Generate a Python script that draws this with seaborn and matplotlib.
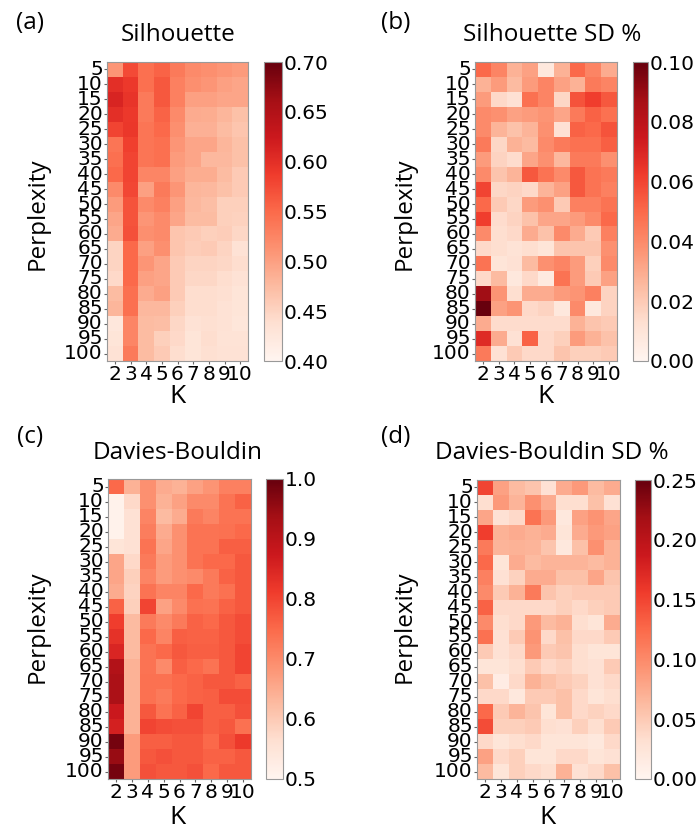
import matplotlib
matplotlib.use("Agg")
import matplotlib.pyplot as plt
import seaborn as sns
import pandas as pd

# grid of the t-SNE runs
perplexity = list(range(5, 105, 5))
k_values = list(range(2, 11))

# rows = perplexity 5..100, cols = K 2..10
silhouette = [
    [0.510, 0.575, 0.545, 0.555, 0.535, 0.520, 0.515, 0.510, 0.505],
    [0.600, 0.590, 0.545, 0.565, 0.530, 0.515, 0.510, 0.500, 0.495],
    [0.612, 0.595, 0.535, 0.565, 0.530, 0.500, 0.500, 0.495, 0.495],
    [0.600, 0.590, 0.535, 0.555, 0.520, 0.490, 0.488, 0.480, 0.470],
    [0.580, 0.592, 0.540, 0.550, 0.515, 0.485, 0.485, 0.475, 0.465],
    [0.540, 0.585, 0.540, 0.545, 0.510, 0.495, 0.495, 0.480, 0.470],
    [0.545, 0.580, 0.540, 0.545, 0.505, 0.495, 0.478, 0.478, 0.470],
    [0.550, 0.580, 0.525, 0.525, 0.500, 0.488, 0.488, 0.475, 0.460],
    [0.520, 0.578, 0.500, 0.535, 0.510, 0.480, 0.478, 0.470, 0.460],
    [0.505, 0.568, 0.520, 0.530, 0.500, 0.478, 0.472, 0.455, 0.455],
    [0.495, 0.568, 0.510, 0.520, 0.495, 0.475, 0.475, 0.455, 0.452],
    [0.490, 0.570, 0.515, 0.520, 0.465, 0.460, 0.455, 0.457, 0.448],
    [0.450, 0.550, 0.500, 0.515, 0.465, 0.457, 0.460, 0.450, 0.435],
    [0.450, 0.550, 0.510, 0.495, 0.460, 0.450, 0.450, 0.448, 0.440],
    [0.445, 0.550, 0.500, 0.495, 0.460, 0.448, 0.448, 0.440, 0.435],
    [0.475, 0.545, 0.490, 0.500, 0.460, 0.440, 0.440, 0.438, 0.430],
    [0.480, 0.545, 0.478, 0.478, 0.455, 0.440, 0.440, 0.435, 0.430],
    [0.425, 0.525, 0.475, 0.472, 0.448, 0.435, 0.438, 0.435, 0.428],
    [0.430, 0.525, 0.475, 0.455, 0.445, 0.430, 0.440, 0.433, 0.433],
    [0.435, 0.535, 0.475, 0.460, 0.440, 0.430, 0.438, 0.435, 0.435],
]

silhouette_sd = [
    [0.050, 0.042, 0.028, 0.033, 0.008, 0.028, 0.050, 0.042, 0.030],
    [0.028, 0.035, 0.025, 0.035, 0.042, 0.033, 0.028, 0.045, 0.042],
    [0.035, 0.015, 0.012, 0.048, 0.042, 0.016, 0.056, 0.062, 0.055],
    [0.040, 0.038, 0.033, 0.035, 0.037, 0.032, 0.045, 0.052, 0.048],
    [0.040, 0.027, 0.023, 0.027, 0.038, 0.012, 0.052, 0.050, 0.056],
    [0.045, 0.016, 0.028, 0.025, 0.040, 0.045, 0.048, 0.048, 0.053],
    [0.035, 0.017, 0.014, 0.032, 0.038, 0.026, 0.045, 0.045, 0.038],
    [0.040, 0.022, 0.027, 0.055, 0.047, 0.040, 0.055, 0.047, 0.045],
    [0.060, 0.016, 0.017, 0.015, 0.027, 0.033, 0.055, 0.047, 0.043],
    [0.050, 0.020, 0.016, 0.035, 0.038, 0.020, 0.043, 0.043, 0.047],
    [0.062, 0.014, 0.017, 0.023, 0.032, 0.032, 0.035, 0.040, 0.050],
    [0.040, 0.013, 0.015, 0.030, 0.023, 0.040, 0.030, 0.020, 0.043],
    [0.015, 0.013, 0.011, 0.013, 0.010, 0.022, 0.022, 0.022, 0.038],
    [0.047, 0.010, 0.012, 0.025, 0.038, 0.042, 0.035, 0.018, 0.040],
    [0.015, 0.025, 0.008, 0.015, 0.007, 0.047, 0.035, 0.020, 0.033],
    [0.088, 0.037, 0.013, 0.030, 0.030, 0.035, 0.037, 0.043, 0.017],
    [0.100, 0.033, 0.037, 0.015, 0.017, 0.008, 0.040, 0.008, 0.017],
    [0.030, 0.014, 0.014, 0.014, 0.014, 0.014, 0.028, 0.022, 0.020],
    [0.068, 0.030, 0.012, 0.052, 0.015, 0.018, 0.035, 0.028, 0.023],
    [0.045, 0.012, 0.020, 0.015, 0.015, 0.022, 0.018, 0.018, 0.020],
]

davies_bouldin = [
    [0.750, 0.640, 0.690, 0.650, 0.640, 0.665, 0.685, 0.715, 0.715],
    [0.510, 0.575, 0.690, 0.640, 0.665, 0.700, 0.700, 0.735, 0.760],
    [0.510, 0.560, 0.710, 0.625, 0.650, 0.725, 0.710, 0.735, 0.735],
    [0.510, 0.560, 0.720, 0.650, 0.690, 0.735, 0.735, 0.740, 0.750],
    [0.550, 0.560, 0.735, 0.660, 0.690, 0.735, 0.735, 0.765, 0.765],
    [0.660, 0.575, 0.725, 0.675, 0.690, 0.735, 0.750, 0.750, 0.775],
    [0.660, 0.590, 0.710, 0.675, 0.690, 0.700, 0.725, 0.760, 0.775],
    [0.650, 0.585, 0.735, 0.710, 0.710, 0.750, 0.725, 0.740, 0.775],
    [0.760, 0.590, 0.800, 0.665, 0.700, 0.740, 0.735, 0.760, 0.775],
    [0.810, 0.625, 0.725, 0.700, 0.725, 0.760, 0.750, 0.775, 0.790],
    [0.830, 0.625, 0.750, 0.710, 0.765, 0.760, 0.760, 0.775, 0.790],
    [0.850, 0.625, 0.735, 0.750, 0.775, 0.765, 0.765, 0.775, 0.800],
    [0.915, 0.640, 0.735, 0.700, 0.765, 0.750, 0.735, 0.775, 0.800],
    [0.925, 0.640, 0.740, 0.740, 0.750, 0.760, 0.775, 0.775, 0.760],
    [0.925, 0.640, 0.740, 0.725, 0.750, 0.760, 0.765, 0.790, 0.790],
    [0.875, 0.640, 0.775, 0.735, 0.760, 0.800, 0.765, 0.765, 0.785],
    [0.860, 0.640, 0.800, 0.790, 0.785, 0.785, 0.765, 0.775, 0.740],
    [0.985, 0.675, 0.765, 0.765, 0.775, 0.775, 0.750, 0.785, 0.815],
    [0.950, 0.675, 0.775, 0.785, 0.775, 0.775, 0.760, 0.760, 0.775],
    [0.985, 0.675, 0.785, 0.775, 0.775, 0.785, 0.750, 0.775, 0.775],
]

davies_bouldin_sd = [
    [0.150, 0.083, 0.063, 0.055, 0.030, 0.075, 0.088, 0.063, 0.075],
    [0.033, 0.088, 0.068, 0.095, 0.075, 0.033, 0.033, 0.058, 0.030],
    [0.080, 0.030, 0.038, 0.118, 0.088, 0.020, 0.083, 0.093, 0.080],
    [0.155, 0.070, 0.075, 0.070, 0.075, 0.025, 0.075, 0.088, 0.083],
    [0.113, 0.068, 0.070, 0.068, 0.055, 0.020, 0.058, 0.095, 0.070],
    [0.125, 0.025, 0.075, 0.063, 0.068, 0.068, 0.068, 0.063, 0.070],
    [0.108, 0.030, 0.043, 0.075, 0.075, 0.058, 0.058, 0.080, 0.055],
    [0.100, 0.050, 0.070, 0.113, 0.055, 0.045, 0.050, 0.050, 0.050],
    [0.130, 0.038, 0.038, 0.038, 0.038, 0.045, 0.038, 0.045, 0.050],
    [0.100, 0.033, 0.038, 0.088, 0.063, 0.070, 0.033, 0.025, 0.075],
    [0.120, 0.030, 0.050, 0.093, 0.038, 0.058, 0.038, 0.038, 0.050],
    [0.050, 0.030, 0.038, 0.088, 0.050, 0.055, 0.033, 0.025, 0.025],
    [0.025, 0.025, 0.033, 0.050, 0.038, 0.043, 0.033, 0.030, 0.050],
    [0.058, 0.013, 0.038, 0.070, 0.058, 0.050, 0.043, 0.030, 0.038],
    [0.038, 0.038, 0.020, 0.050, 0.050, 0.058, 0.038, 0.025, 0.033],
    [0.125, 0.050, 0.068, 0.055, 0.025, 0.058, 0.038, 0.043, 0.038],
    [0.145, 0.045, 0.045, 0.050, 0.033, 0.030, 0.045, 0.033, 0.050],
    [0.038, 0.025, 0.033, 0.038, 0.025, 0.025, 0.025, 0.020, 0.038],
    [0.083, 0.038, 0.045, 0.025, 0.025, 0.038, 0.038, 0.025, 0.030],
    [0.063, 0.025, 0.045, 0.038, 0.033, 0.070, 0.030, 0.038, 0.058],
]

W, H = 698, 834
LABEL_FONT = ["Open Sans", "DejaVu Sans"]

fig = plt.figure(figsize=(W / 100, H / 100), dpi=100)

# (tag, title, data, vmin, vmax, cbar ticks, fmt, heatmap box px, cbar x px, tag xy, title xy, ylabel xy, xlabel xy)
panels = [
    ("(a)", "Silhouette", silhouette, 0.40, 0.70, [0.40, 0.45, 0.50, 0.55, 0.60, 0.65, 0.70], "{:.2f}",
     (107, 62, 248, 361), (264, 282), (30, 23), (178, 35), (38, 214), (178, 397)),
    ("(b)", "Silhouette SD %", silhouette_sd, 0.00, 0.10, [0.00, 0.02, 0.04, 0.06, 0.08, 0.10], "{:.2f}",
     (475, 62, 617, 361), (633, 648), (396, 23), (552, 35), (405, 214), (546, 397)),
    ("(c)", "Davies-Bouldin", davies_bouldin, 0.5, 1.0, [0.5, 0.6, 0.7, 0.8, 0.9, 1.0], "{:.1f}",
     (108, 479, 251, 779), (266, 283), (30, 437), (178, 453), (38, 627), (178, 817)),
    ("(d)", "Davies-Bouldin SD %", davies_bouldin_sd, 0.00, 0.25, [0.00, 0.05, 0.10, 0.15, 0.20, 0.25], "{:.2f}",
     (477, 480, 620, 779), (635, 651), (396, 437), (552, 453), (405, 627), (548, 817)),
]

for (tag, title, values, vmin, vmax, cticks, cfmt, box, cbx, tag_xy, title_xy, ylab_xy, xlab_xy) in panels:
    x0, y0, x1, y1 = box
    ax = fig.add_axes([x0 / W, 1 - y1 / H, (x1 - x0) / W, (y1 - y0) / H])
    cax = fig.add_axes([cbx[0] / W, 1 - y1 / H, (cbx[1] - cbx[0]) / W, (y1 - y0) / H])

    df = pd.DataFrame(values, index=perplexity, columns=k_values)
    sns.heatmap(df, ax=ax, cbar_ax=cax, cmap="Reds", vmin=vmin, vmax=vmax,
                xticklabels=k_values, yticklabels=perplexity)

    for s in ax.spines.values():
        s.set_visible(True)
        s.set_color("#999999")
        s.set_linewidth(0.8)
    ax.tick_params(axis="both", labelsize=14.5, length=2, pad=1, color="#666666")
    ax.set_yticklabels(perplexity, rotation=0)
    ax.set_xticklabels(k_values, rotation=0)
    ax.set_xlabel("")
    ax.set_ylabel("")

    cbar = ax.collections[0].colorbar
    cbar.set_ticks(cticks)
    cbar.set_ticklabels([cfmt.format(t) for t in cticks])
    cax.tick_params(labelsize=14.5, length=0, pad=1)
    cbar.outline.set_visible(True)
    cbar.outline.set_edgecolor("#999999")
    cbar.outline.set_linewidth(0.8)

    fig.text(tag_xy[0] / W, 1 - tag_xy[1] / H, tag, ha="center", va="center",
             fontsize=17.5, family=LABEL_FONT)
    fig.text(title_xy[0] / W, 1 - title_xy[1] / H, title, ha="center", va="center",
             fontsize=17.5, family=LABEL_FONT)
    fig.text(ylab_xy[0] / W, 1 - ylab_xy[1] / H, "Perplexity", ha="center", va="center",
             rotation=90, fontsize=17.5, family=LABEL_FONT)
    fig.text(xlab_xy[0] / W, 1 - xlab_xy[1] / H, "K", ha="center", va="center",
             fontsize=19, family=LABEL_FONT)

fig.savefig("out.png", dpi=100)
